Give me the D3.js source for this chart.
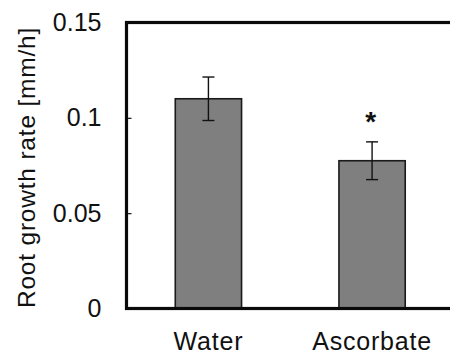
<!DOCTYPE html>
<html>
<head>
<meta charset="utf-8">
<script src="https://cdn.jsdelivr.net/npm/d3@7"></script>
<style>
  html, body { margin: 0; padding: 0; background: #fff; }
  svg { display: block; }
  text { font-family: "Liberation Sans", Arial, sans-serif; fill: #111; }
</style>
</head>
<body>
<svg id="chart" width="450" height="356"></svg>
<script>
const categories = ["Water", "Ascorbate"];
const values = [0.110, 0.0775];
const errors = [0.0114, 0.0099];
const significant = [false, true];
const yTicks = [0, 0.05, 0.1, 0.15];
const yTickLabels = ["0", "0.05", "0.1", "0.15"];
const yLabel = "Root growth rate [mm/h]";

const svg = d3.select("#chart");
const plot = { left: 126.5, right: 454, top: 22.5, bottom: 308.5 };

const x = d3.scaleBand()
  .domain(categories)
  .range([plot.left, plot.right])
  .paddingInner(0.595)
  .paddingOuter(0.298);

const y = d3.scaleLinear().domain([0, 0.15]).range([plot.bottom, plot.top]);

// bars
svg.append("g").selectAll("rect")
  .data(categories)
  .join("rect")
  .attr("x", d => x(d))
  .attr("y", (d, i) => y(values[i]))
  .attr("width", x.bandwidth())
  .attr("height", (d, i) => y(0) - y(values[i]))
  .attr("fill", "#7f7f7f")
  .attr("stroke", "#1a1a1a")
  .attr("stroke-width", 1.6);

// error bars
const eg = svg.append("g").attr("stroke", "#111").attr("stroke-width", 1.4);
categories.forEach((c, i) => {
  const cx = x(c) + x.bandwidth() / 2;
  const hi = y(values[i] + errors[i]), lo = y(values[i] - errors[i]);
  eg.append("line").attr("x1", cx).attr("x2", cx).attr("y1", hi).attr("y2", lo);
  eg.append("line").attr("x1", cx - 6).attr("x2", cx + 6).attr("y1", hi).attr("y2", hi);
  eg.append("line").attr("x1", cx - 6).attr("x2", cx + 6).attr("y1", lo).attr("y2", lo);
  if (significant[i]) {
    svg.append("text")
      .attr("x", cx - 1.5)
      .attr("y", hi - 11)
      .attr("text-anchor", "middle")
      .attr("font-size", 28)
      .attr("font-weight", "bold")
      .text("*");
  }
});

// y axis with inward ticks
const yAxis = d3.axisLeft(y)
  .tickValues(yTicks)
  .tickFormat((d, i) => yTickLabels[i])
  .tickSizeInner(-5)
  .tickSizeOuter(0)
  .tickPadding(25);
const ga = svg.append("g").attr("transform", `translate(${plot.left},0)`).call(yAxis);
ga.select(".domain").remove();
ga.selectAll(".tick line").attr("stroke", "#111").attr("stroke-width", 1.2);
ga.selectAll(".tick text")
  .attr("font-size", 25)
  .attr("font-family", "Liberation Sans, Arial, sans-serif")
  .attr("fill", "#111");

// frame
svg.append("rect")
  .attr("x", plot.left).attr("y", plot.top)
  .attr("width", plot.right - plot.left).attr("height", plot.bottom - plot.top)
  .attr("fill", "none")
  .attr("stroke", "#0a0a0a")
  .attr("stroke-width", 3.2);

// x labels
svg.append("g").selectAll("text")
  .data(categories)
  .join("text")
  .attr("x", d => x(d) + x.bandwidth() / 2)
  .attr("y", 350)
  .attr("text-anchor", "middle")
  .attr("font-size", 25)
  .attr("letter-spacing", 0.8)
  .text(d => d);

// y label
svg.append("text")
  .attr("transform", `translate(35,${(plot.top + plot.bottom) / 2 + 2}) rotate(-90)`)
  .attr("text-anchor", "middle")
  .attr("font-size", 24.5)
  .attr("letter-spacing", 0.8)
  .text(yLabel);
</script>
</body>
</html>
